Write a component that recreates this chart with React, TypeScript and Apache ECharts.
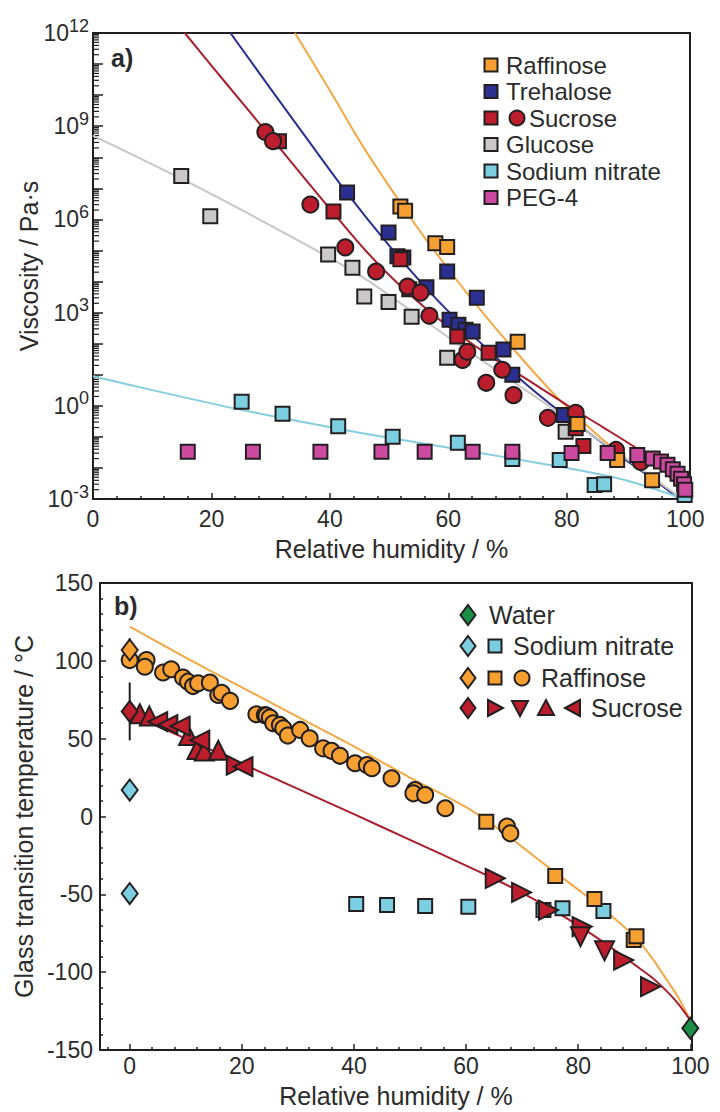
import React, { useEffect, useRef } from "react";
import * as echarts from "echarts";

// ---------------- Panel a) Viscosity vs relative humidity ----------------
const raffinoseRH = [51.9, 52.7, 57.8, 59.8, 71.7, 81.8, 88.5, 94.4];
const raffinoseVisc = [2.6e6, 1.9e6, 1.7e5, 1.3e5, 115, 0.26, 0.018, 0.004];
const trehaloseRH = [42.9, 49.9, 51.4, 52.4, 56.3, 59.8, 60.2, 61.7, 62.9, 64.1, 64.8, 69.3, 70.8, 79.5];
const trehaloseVisc = [7.4e6, 3.8e5, 6.5e4, 5.9e4, 6.5e3, 2.1e4, 590, 410, 280, 245, 3.0e3, 65, 10, 0.51];
const sucroseSqRH = [31.4, 40.6, 51.9, 53.4, 61.5, 66.8, 81.5, 82.8];
const sucroseSqVisc = [3.3e8, 1.8e6, 5.2e4, 5.6e3, 170, 51, 0.19, 0.051];
const sucroseCircRH = [29.1, 30.4, 36.7, 42.6, 47.8, 53.1, 55.3, 56.8, 62.4, 63.2, 66.4, 69.1, 71.0, 76.8, 81.5, 88.3, 92.5];
const sucroseCircVisc = [6.5e8, 3.3e8, 3.0e6, 1.26e5, 2.1e4, 6.9e3, 4.4e3, 790, 30, 55, 5.5, 14.5, 2.2, 0.41, 0.59, 0.038, 0.0155];
const glucoseRH = [14.9, 19.8, 39.7, 43.8, 45.8, 49.9, 53.8, 59.8, 79.8];
const glucoseVisc = [2.5e7, 1.26e6, 7.4e4, 2.8e4, 3.3e3, 2.2e3, 740, 35, 0.145];
const nitrateRH = [25.1, 32.0, 41.4, 50.6, 61.6, 70.8, 78.8, 84.7, 86.3, 99.9];
const nitrateVisc = [1.35, 0.55, 0.22, 0.1, 0.065, 0.0195, 0.018, 0.0028, 0.003, 0.00135];
const pegRH = [16, 27, 38.4, 48.7, 56, 64.1, 70.8, 80.8, 86.9, 91.9, 94.5, 95.9, 97.0, 97.9, 98.7, 99.3, 99.8, 100];
const pegVisc = [0.033, 0.033, 0.033, 0.033, 0.033, 0.033, 0.033, 0.03, 0.03, 0.026, 0.02, 0.016, 0.0126, 0.0091, 0.0065, 0.0045, 0.003, 0.002];

// fitted curves
const raffFitRH = [34.1, 40, 45.6, 52, 56, 61.4, 66, 71.5, 78, 84.3, 88, 92.7, 96, 100];
const raffFitVisc = [1e12, 1.4e10, 2.2e8, 3.2e6, 2.6e5, 1.12e4, 890, 52, 2.2, 0.16, 0.04, 0.0079, 0.0028, 0.00089];
const trehFitRH = [23.2, 30, 36.7, 42.8, 49.8, 56.3, 62, 67, 71, 75, 79.3, 85, 90, 95, 99];
const trehFitVisc = [1e12, 1.6e10, 2.8e8, 7.4e6, 1.6e5, 6.0e3, 450, 56, 11.2, 2.5, 0.56, 0.089, 0.0178, 0.0038, 0.001];
const sucFitRH = [15.5, 20, 25, 31.5, 40.6, 46, 51.8, 59, 67, 74.2, 80.9, 86, 92.2, 96, 99.8];
const sucFitVisc = [1e12, 8.9e10, 6.3e9, 2.0e8, 1.6e6, 1.0e5, 7.6e3, 500, 40, 5.5, 0.83, 0.21, 0.038, 0.0105, 0.00135];
const gluFitRH = [0, 15, 30, 45, 60, 70, 80, 90, 99.5];
const gluFitVisc = [5e8, 2e7, 6.3e5, 1.6e4, 160, 7.9, 0.4, 0.02, 0.001];
const nitFitRH = [0, 10, 25, 45, 60, 80, 90, 99.8];
const nitFitVisc = [8.9, 3.2, 0.74, 0.135, 0.045, 0.01, 0.004, 0.001];

const viscDecadeLabels = [-3, 0, 3, 6, 9, 12];

// ---------------- Panel b) Glass transition temperature ----------------
const waterPts = [[100, -136]];
const nitrateDiamondRH = [0, 0];
const nitrateDiamondTg = [17, -49.5];
const nitrateSqRH = [40.4, 45.9, 52.7, 60.4, 73.8, 77.2, 84.5];
const nitrateSqTg = [-56.2, -56.9, -57.5, -57.9, -60.1, -59.0, -60.7];
const raffDiamondRH = [0];
const raffDiamondTg = [107];
const raffDiamondErr = [7.5];
const raffSqRH = [63.6, 75.9, 82.9, 89.9, 90.4];
const raffSqTg = [-3.3, -38.2, -53, -79.3, -77];
const raffCircRH = [0, 3.0, 2.7, 5.95, 7.4, 9.5, 10.4, 11.3, 12.2, 14.3, 15.8, 16.4, 17.9, 22.6, 24.1, 24.4, 25.0, 25.6, 26.8, 27.4, 28.2, 30.4, 32.1, 34.5, 36.0, 37.5, 40.2, 42.3, 43.2, 46.7, 50.9, 50.6, 52.7, 56.3, 67.3, 67.9];
const raffCircTg = [100.5, 100.5, 96.2, 92.5, 94.6, 89.3, 86.6, 83.8, 85.6, 86.0, 78.1, 79.5, 74.3, 65.7, 65.2, 64.8, 63.6, 59.9, 58.8, 56.7, 52.0, 55.6, 50.2, 43.8, 42.2, 39.0, 34.2, 33.1, 31.0, 24.5, 17.0, 14.9, 13.8, 5.3, -6.5, -10.8];
const sucDiamondRH = [0];
const sucDiamondTg = [67.5];
const sucDiamondErr = [18.6];
const sucRightRH = [19.0, 65.2, 69.9, 74.7, 80.7, 88.1, 92.9];
const sucRightTg = [33, -39.7, -48.8, -60.1, -70.7, -92.2, -109.3];
const sucDownRH = [80.4, 84.7];
const sucDownTg = [-77.2, -86.3];
const sucUpRH = [1.8, 3.5, 10.5, 12.0, 13.3, 15.8];
const sucUpTg = [66, 64.5, 52, 43, 42, 42.5];
const sucLeftRH = [5, 6.8, 9, 12.5, 20.2];
const sucLeftTg = [61, 59, 58, 49, 32];

const raffTgFitRH = [0, 10, 20, 30, 40, 50, 60, 65, 70, 75, 80, 85, 90, 93, 96, 98, 100];
const raffTgFitTg = [122, 102, 83, 64, 45, 25, 6, -6, -19.5, -33.5, -47, -61, -77, -90, -106, -117, -131];
const sucTgFitRH = [0, 20, 40, 50, 60, 65, 70, 75, 80, 85, 90, 93, 96, 98, 100];
const sucTgFitTg = [66, 34, 1.5, -15, -31.5, -40, -49, -59, -70, -82, -95, -103, -113, -121, -131];

const FONT = "'Liberation Sans', Arial, Helvetica, sans-serif";
const TXT = "#2b2b2b";
const EDGE = "#231f20";

const C = {
  orange: "#f6a031",
  orangeLine: "#f2a845",
  blue: "#2b3090",
  red: "#bd1e2d",
  redLine: "#a81e2d",
  grey: "#c9c9c9",
  greyLine: "#c6c6c6",
  cyan: "#7ccfe0",
  cyanLine: "#86cede",
  pink: "#cc4a9f",
  green: "#1b8f45",
};

const zip = (xs: number[], ys: number[]) => xs.map((x, i) => [x, ys[i]]);

export default function App() {
  const ref = useRef<HTMLDivElement>(null);
  useEffect(() => {
    if (!ref.current) return;
    const chart = echarts.init(ref.current, null, { renderer: "svg" });

    const scatter = (name: string, data: number[][], symbol: string, size: any, color: string, gi: number, extra: any = {}) => ({
      type: "scatter",
      name,
      xAxisIndex: gi,
      yAxisIndex: gi === 0 ? 0 : 2,
      data,
      symbol,
      symbolSize: size,
      itemStyle: { color, borderColor: EDGE, borderWidth: 2, opacity: 1 },
      z: 5,
      ...extra,
    });
    const fit = (name: string, data: number[][], color: string, gi: number) => ({
      type: "line",
      name,
      xAxisIndex: gi,
      yAxisIndex: gi === 0 ? 0 : 2,
      data,
      showSymbol: false,
      symbol: "none",
      smooth: 0.25,
      lineStyle: { color, width: 2 },
      z: 3,
    });

    // minor (2..9) log ticks for the viscosity axis
    const logMinor: number[][] = [];
    for (let d = -3; d < 12; d++) for (let m = 2; m <= 9; m++) logMinor.push([0, m * Math.pow(10, d)]);

    const errData = [
      [raffDiamondRH[0], raffDiamondTg[0] - raffDiamondErr[0], raffDiamondTg[0] + raffDiamondErr[0]],
      [sucDiamondRH[0], sucDiamondTg[0] - sucDiamondErr[0], sucDiamondTg[0] + sucDiamondErr[0]],
    ];

    // legend graphics
    const g: any[] = [];
    const tx = (x: number, y: number, text: string, size = 24, weight = "normal") =>
      g.push({ type: "text", x, y, style: { text, fontSize: size, fontFamily: FONT, fontWeight: weight, fill: TXT, verticalAlign: "middle", align: "left" }, z: 100 });
    const sq = (cx: number, cy: number, fill: string, s = 13) =>
      g.push({ type: "rect", shape: { x: cx - s / 2, y: cy - s / 2, width: s, height: s }, style: { fill, stroke: EDGE, lineWidth: 2 }, z: 100 });
    const ci = (cx: number, cy: number, fill: string, r = 7.5) =>
      g.push({ type: "circle", shape: { cx, cy, r }, style: { fill, stroke: EDGE, lineWidth: 2 }, z: 100 });
    const poly = (pts: number[][], fill: string) =>
      g.push({ type: "polygon", shape: { points: pts }, style: { fill, stroke: EDGE, lineWidth: 2 }, z: 100 });
    const dia = (cx: number, cy: number, fill: string) => poly([[cx, cy - 10], [cx + 7.5, cy], [cx, cy + 10], [cx - 7.5, cy]], fill);

    tx(111, 58, "a)", 25, "bold");
    tx(114, 606, "b)", 25, "bold");

    const topRows = [65, 91.5, 118, 144.5, 171, 197.5];
    sq(491, topRows[0], C.orange); tx(506, topRows[0], "Raffinose");
    sq(491, topRows[1], C.blue); tx(506, topRows[1], "Trehalose");
    sq(491, topRows[2], C.red); ci(517, topRows[2], C.red); tx(529, topRows[2], "Sucrose");
    sq(491, topRows[3], C.grey); tx(506, topRows[3], "Glucose");
    sq(491, topRows[4], C.cyan); tx(506, topRows[4], "Sodium nitrate");
    sq(491, topRows[5], C.pink); tx(506, topRows[5], "PEG-4");

    const botRows = [615, 646, 678, 708];
    dia(468, botRows[0], C.green); tx(489, botRows[0], "Water", 25);
    dia(468, botRows[1], C.cyan); sq(495, botRows[1], C.cyan); tx(513, botRows[1], "Sodium nitrate", 25);
    dia(468, botRows[2], C.orange); sq(495, botRows[2], C.orange); ci(522, botRows[2], C.orange); tx(541, botRows[2], "Raffinose", 25);
    dia(468, botRows[3], C.red);
    const y4 = botRows[3];
    poly([[488, y4 - 8], [503, y4], [488, y4 + 8]], C.red);
    poly([[512, y4 - 7], [528, y4 - 7], [520, y4 + 8]], C.red);
    poly([[538, y4 + 7], [554, y4 + 7], [546, y4 - 8]], C.red);
    poly([[580, y4 - 8], [565, y4], [580, y4 + 8]], C.red);
    tx(591, y4, "Sucrose", 25);

    const axisLine = { show: true, onZero: false, lineStyle: { color: EDGE, width: 2 } };
    const labelStyle = { fontSize: 23, fontFamily: FONT, color: TXT };
    const nameStyle = { fontSize: 25, fontFamily: FONT, color: TXT };

    const option: any = {
      animation: false,
      backgroundColor: "#ffffff",
      textStyle: { fontFamily: FONT },
      grid: [
        { left: 93, top: 33, right: 30, bottom: 613, show: true, borderColor: EDGE, borderWidth: 2, backgroundColor: "transparent" },
        { left: 100, top: 583, right: 28, bottom: 62, show: true, borderColor: EDGE, borderWidth: 2, backgroundColor: "transparent" },
      ],
      xAxis: [
        {
          gridIndex: 0, type: "value", min: 0, max: 100.8, interval: 20,
          axisLine, splitLine: { show: false },
          axisTick: { show: true, inside: true, length: 6, lineStyle: { color: EDGE, width: 1.5 } },
          minorTick: { show: true, splitNumber: 5, length: 3, lineStyle: { color: EDGE, width: 1.5 } },
          axisLabel: { ...labelStyle, margin: 8, formatter: (v: number) => (Math.abs(v % 20) < 1e-6 ? String(v) : "") },
          name: "Relative humidity / %", nameLocation: "middle", nameGap: 37, nameTextStyle: nameStyle,
        },
        {
          gridIndex: 1, type: "value", min: -5.3, max: 100.3, splitNumber: 5,
          axisLine, splitLine: { show: false },
          axisTick: { show: true, inside: true, length: 6, lineStyle: { color: EDGE, width: 1.5 } },
          minorTick: { show: true, splitNumber: 5, length: 3, lineStyle: { color: EDGE, width: 1.5 } },
          axisLabel: { ...labelStyle, margin: 4, formatter: (v: number) => (Math.abs(v % 20) < 1e-6 ? String(v) : "") },
          name: "Relative humidity / %", nameLocation: "middle", nameGap: 33, nameTextStyle: nameStyle,
        },
      ],
      yAxis: [
        {
          gridIndex: 0, type: "log", logBase: 10, min: 1e-3, max: 1e12,
          axisLine, splitLine: { show: false }, axisTick: { show: false }, axisLabel: { show: false },
          name: "Viscosity / Pa·s", nameLocation: "middle", nameGap: 52, nameTextStyle: nameStyle,
        },
        {
          gridIndex: 0, type: "value", min: -3, max: 12, interval: 3, position: "left",
          axisLine: { show: false }, splitLine: { show: false },
          axisTick: { show: true, inside: true, length: 10, lineStyle: { color: EDGE, width: 1.5 } },
          minorTick: { show: true, splitNumber: 3, length: 10, lineStyle: { color: EDGE, width: 1.5 } },
          axisLabel: {
            margin: 4,
            formatter: (v: number) => (viscDecadeLabels.includes(v) ? `{b|10}{s|${v}}` : ""),
            rich: {
              b: { fontSize: 23, fontFamily: FONT, color: TXT, verticalAlign: "bottom", lineHeight: 23 },
              s: { fontSize: 18, fontFamily: FONT, color: TXT, verticalAlign: "bottom", lineHeight: 18, padding: [0, 0, 10, 0] },
            },
          },
        },
        {
          gridIndex: 1, type: "value", min: -150, max: 150, interval: 50,
          axisLine, splitLine: { show: false },
          axisTick: { show: true, inside: true, length: 6, lineStyle: { color: EDGE, width: 1.5 } },
          minorTick: { show: true, splitNumber: 5, length: 3, lineStyle: { color: EDGE, width: 1.5 } },
          axisLabel: { ...labelStyle, margin: 7 },
          name: "Glass transition temperature / °C", nameLocation: "middle", nameGap: 62, nameTextStyle: nameStyle,
        },
      ],
      graphic: g,
      series: [
        {
          type: "custom", name: "log minor ticks", xAxisIndex: 0, yAxisIndex: 0, data: logMinor, silent: true, z: 2,
          encode: { x: 0, y: 1 },
          renderItem: (params: any, api: any) => {
            const p = api.coord([api.value(0), api.value(1)]);
            return { type: "line", shape: { x1: p[0], y1: p[1], x2: p[0] + 6, y2: p[1] }, style: { stroke: EDGE, lineWidth: 1.2 } };
          },
        },
        fit("Raffinose fit", zip(raffFitRH, raffFitVisc), C.orangeLine, 0),
        fit("Trehalose fit", zip(trehFitRH, trehFitVisc), C.blue, 0),
        fit("Sucrose fit", zip(sucFitRH, sucFitVisc), C.redLine, 0),
        fit("Glucose fit", zip(gluFitRH, gluFitVisc), C.greyLine, 0),
        fit("Sodium nitrate fit", zip(nitFitRH, nitFitVisc), C.cyanLine, 0),
        scatter("Glucose", zip(glucoseRH, glucoseVisc), "rect", 14, C.grey, 0),
        scatter("Sodium nitrate", zip(nitrateRH, nitrateVisc), "rect", 14, C.cyan, 0),
        scatter("Trehalose", zip(trehaloseRH, trehaloseVisc), "rect", 14, C.blue, 0),
        scatter("Sucrose (squares)", zip(sucroseSqRH, sucroseSqVisc), "rect", 14, C.red, 0),
        scatter("Sucrose (circles)", zip(sucroseCircRH, sucroseCircVisc), "circle", 16, C.red, 0),
        scatter("Raffinose", zip(raffinoseRH, raffinoseVisc), "rect", 14, C.orange, 0),
        scatter("PEG-4", zip(pegRH, pegVisc), "rect", 14, C.pink, 0),

        fit("Raffinose Tg fit", zip(raffTgFitRH, raffTgFitTg), C.orangeLine, 1),
        fit("Sucrose Tg fit", zip(sucTgFitRH, sucTgFitTg), C.redLine, 1),
        {
          type: "custom", name: "error bars", xAxisIndex: 1, yAxisIndex: 2, data: errData, silent: true, z: 4,
          encode: { x: 0, y: [1, 2] },
          renderItem: (params: any, api: any) => {
            const a = api.coord([api.value(0), api.value(1)]);
            const b = api.coord([api.value(0), api.value(2)]);
            return { type: "line", shape: { x1: a[0], y1: a[1], x2: b[0], y2: b[1] }, style: { stroke: EDGE, lineWidth: 2 } };
          },
        },
        scatter("Sodium nitrate (squares)", zip(nitrateSqRH, nitrateSqTg), "rect", 14, C.cyan, 1),
        scatter("Raffinose (circles)", zip(raffCircRH, raffCircTg), "circle", 16, C.orange, 1),
        scatter("Raffinose (squares)", zip(raffSqRH, raffSqTg), "rect", 14, C.orange, 1),
        scatter("Sucrose (right)", zip(sucRightRH, sucRightTg), "triangle", 19, C.red, 1, { symbolRotate: -90 }),
        scatter("Sucrose (down)", zip(sucDownRH, sucDownTg), "triangle", 19, C.red, 1, { symbolRotate: 180 }),
        scatter("Sucrose (up)", zip(sucUpRH, sucUpTg), "triangle", 19, C.red, 1),
        scatter("Sucrose (left)", zip(sucLeftRH, sucLeftTg), "triangle", 19, C.red, 1, { symbolRotate: 90 }),
        scatter("Sodium nitrate (diamonds)", zip(nitrateDiamondRH, nitrateDiamondTg), "diamond", [16, 21], C.cyan, 1, { clip: false }),
        scatter("Raffinose (diamond)", zip(raffDiamondRH, raffDiamondTg), "diamond", [16, 21], C.orange, 1, { clip: false }),
        scatter("Sucrose (diamond)", zip(sucDiamondRH, sucDiamondTg), "diamond", [16, 21], C.red, 1, { clip: false }),
        scatter("Water", waterPts, "diamond", [16, 21], C.green, 1, { clip: false }),
      ],
    };
    chart.setOption(option);
    return () => chart.dispose();
  }, []);
  return <div ref={ref} style={{ position: "absolute", left: 0, top: 0, width: 720, height: 1112, background: "#fff" }} />;
}
